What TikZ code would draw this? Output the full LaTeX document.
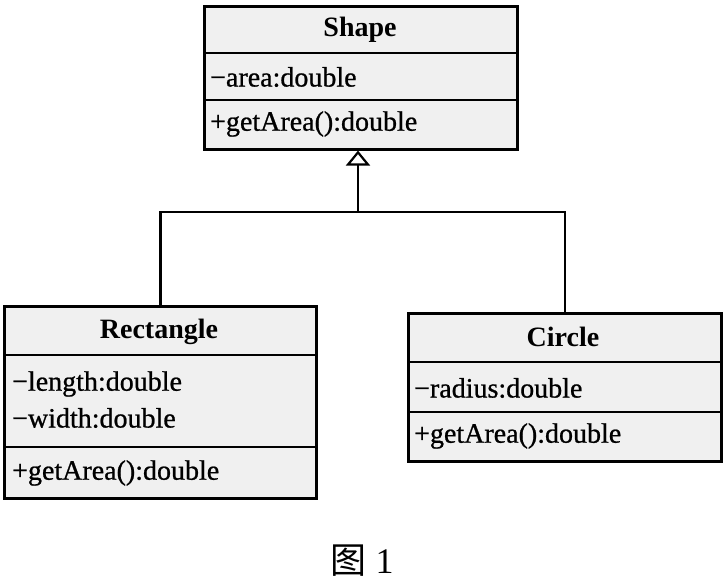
\documentclass[tikz,border=0pt]{standalone}
\usepackage{fontspec}
\setmainfont{Liberation Serif}
\newfontfamily\heavyfont[FakeBold=0.8]{Liberation Serif}
\newfontfamily\cjkfont{Noto Sans CJK SC}
\usetikzlibrary{arrows.meta}
\begin{document}
\begin{tikzpicture}[x=1pt,y=-1pt,
  classbox/.style={draw=black, line width=2.6pt, fill=gray!12, inner sep=0pt, anchor=north west},
  classtitle/.style={font=\fontsize{28}{32}\selectfont\bfseries, anchor=center, inner sep=0pt},
  member/.style={font=\heavyfont\fontsize{28}{32}\selectfont, anchor=west, inner sep=0pt},
  sepline/.style={draw=black, line width=2.6pt},
  conn/.style={draw=black, line width=2.4pt}]
\useasboundingbox (0,0) rectangle (728,584);

% Shape
\node[classbox, minimum width=313pt, minimum height=143pt] (shape) at (203,5) {};
\draw[sepline] (shape.west |- 0,53) -- (shape.east |- 0,53);
\draw[sepline] (shape.west |- 0,100) -- (shape.east |- 0,100);
\node[classtitle] (shapeT) at (360,30) {Shape};
\node[member] (shapeA) at (210,77) {−area:double};
\node[member] (shapeM) at (210,124) {+getArea():double};

% Rectangle
\node[classbox, minimum width=312pt, minimum height=192pt] (rect) at (3,305) {};
\draw[sepline] (rect.west |- 0,355) -- (rect.east |- 0,355);
\draw[sepline] (rect.west |- 0,447) -- (rect.east |- 0,447);
\node[classtitle] (rectT) at (159,332) {Rectangle};
\node[member] (rectA1) at (12,384) {−length:double};
\node[member] (rectA2) at (12,418) {−width:double};
\node[member] (rectM) at (12,473) {+getArea():double};

% Circle
\node[classbox, minimum width=313pt, minimum height=148pt] (circ) at (407,312) {};
\draw[sepline] (circ.west |- 0,362) -- (circ.east |- 0,362);
\draw[sepline] (circ.west |- 0,412) -- (circ.east |- 0,412);
\node[classtitle] (circT) at (563,337) {Circle};
\node[member] (circA) at (414,388) {−radius:double};
\node[member] (circM) at (414,436) {+getArea():double};

% Generalisation
\coordinate (junc) at (358,212);
\draw[conn, -{Triangle[open, width=24pt, length=15pt, line width=2.2pt]}] (rect.north) |- (junc) -- (shape.south -| junc);
\draw[conn] (circ.north) |- (junc);

% Caption
\node[font=\fontsize{36}{40}\selectfont, inner sep=0pt] (cap) at (362,561) {{\cjkfont 图}\ 1};
\end{tikzpicture}
\end{document}
